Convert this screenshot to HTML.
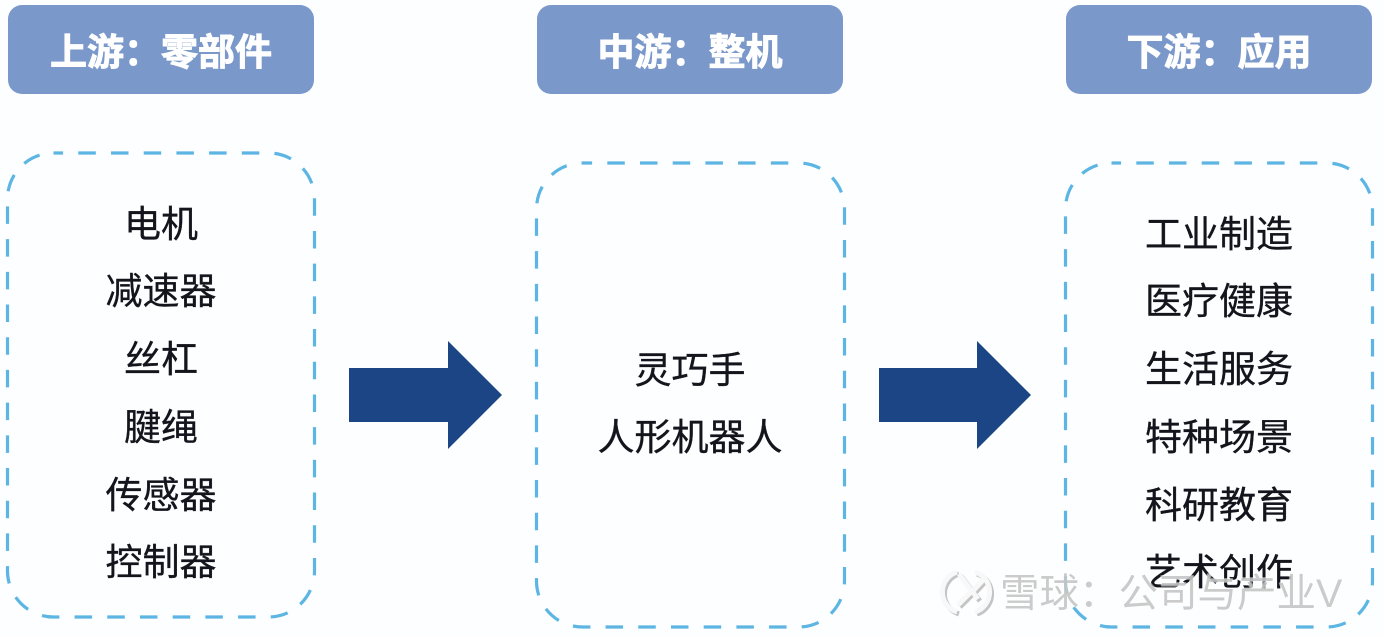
<!DOCTYPE html>
<html lang="zh"><head><meta charset="utf-8">
<style>
html,body{margin:0;padding:0;background:#fdfeff}
svg{display:block}
text{font-family:"Liberation Sans","Noto Sans CJK SC",sans-serif;text-anchor:middle}
.h{font-size:37px;font-weight:700;fill:#fff;stroke:#fff;stroke-width:.9px}
.t{font-size:37px;fill:#14141c;stroke:#14141c;stroke-width:.35px}
.w{font-size:39.5px;fill:#c6c6c6;text-anchor:start;stroke:rgba(255,255,255,.55);stroke-width:2px;paint-order:stroke;stroke-linejoin:round;opacity:.9}
</style></head><body>
<svg width="1384" height="636" viewBox="0 0 1384 636" xmlns="http://www.w3.org/2000/svg">
<rect width="1384" height="636" fill="#fdfeff"/>
<g fill="#7b98cb">
<rect x="8" y="5" width="306" height="89" rx="14"/>
<rect x="537" y="5" width="306" height="89" rx="14"/>
<rect x="1066" y="5" width="306" height="89" rx="14"/>
</g>
<text class="h" x="161" y="65">上游：零部件</text>
<text class="h" x="690" y="65">中游：整机</text>
<text class="h" x="1219" y="65">下游：应用</text>
<g fill="none" stroke="#5cb5e3" stroke-width="3.2" stroke-dasharray="17.5 15.2" stroke-dashoffset="-24.8">
<rect x="7.5" y="153" width="307" height="464" rx="46"/>
<rect x="536.5" y="163" width="308" height="464" rx="46"/>
<rect x="1065.5" y="163" width="307" height="464" rx="46"/>
</g>
<g>
<text class="t" x="161" y="237">电机</text>
<text class="t" x="161" y="304">减速器</text>
<text class="t" x="161" y="372">丝杠</text>
<text class="t" x="161" y="440">腱绳</text>
<text class="t" x="161" y="508">传感器</text>
<text class="t" x="161" y="575">控制器</text>
<text class="t" x="690" y="383">灵巧手</text>
<text class="t" x="690" y="450">人形机器人</text>
<text class="t" x="1219" y="247">工业制造</text>
<text class="t" x="1219" y="314">医疗健康</text>
<text class="t" x="1219" y="382">生活服务</text>
<text class="t" x="1219" y="450">特种场景</text>
<text class="t" x="1219" y="518">科研教育</text>
<text class="t" x="1219" y="585">艺术创作</text>
</g>
<g fill="#1b4585">
<polygon points="349,368 448,368 448,341 502,395 448,449 448,422 349,422"/>
<polygon points="879,368 977,368 977,341 1031,395 977,449 977,422 879,422"/>
</g>
<g fill="none" stroke-width="5">
<g stroke="#c4c4c4" transform="translate(2 2)">
<path d="M957 572A21 21 0 0 0 957 612M975 572A21 21 0 0 1 975 612"/>
<path d="M959 574L978 599M958 605L971 592M985 578L972 592"/>
</g>
<g stroke="#f8f8f8">
<path d="M957 572A21 21 0 0 0 957 612M975 572A21 21 0 0 1 975 612"/>
<path d="M959 574L978 599M958 605L971 592M985 578L972 592"/>
</g>
</g>
<text class="w" x="1000" y="607">雪球：公司与产业V</text>
</svg>
</body></html>
